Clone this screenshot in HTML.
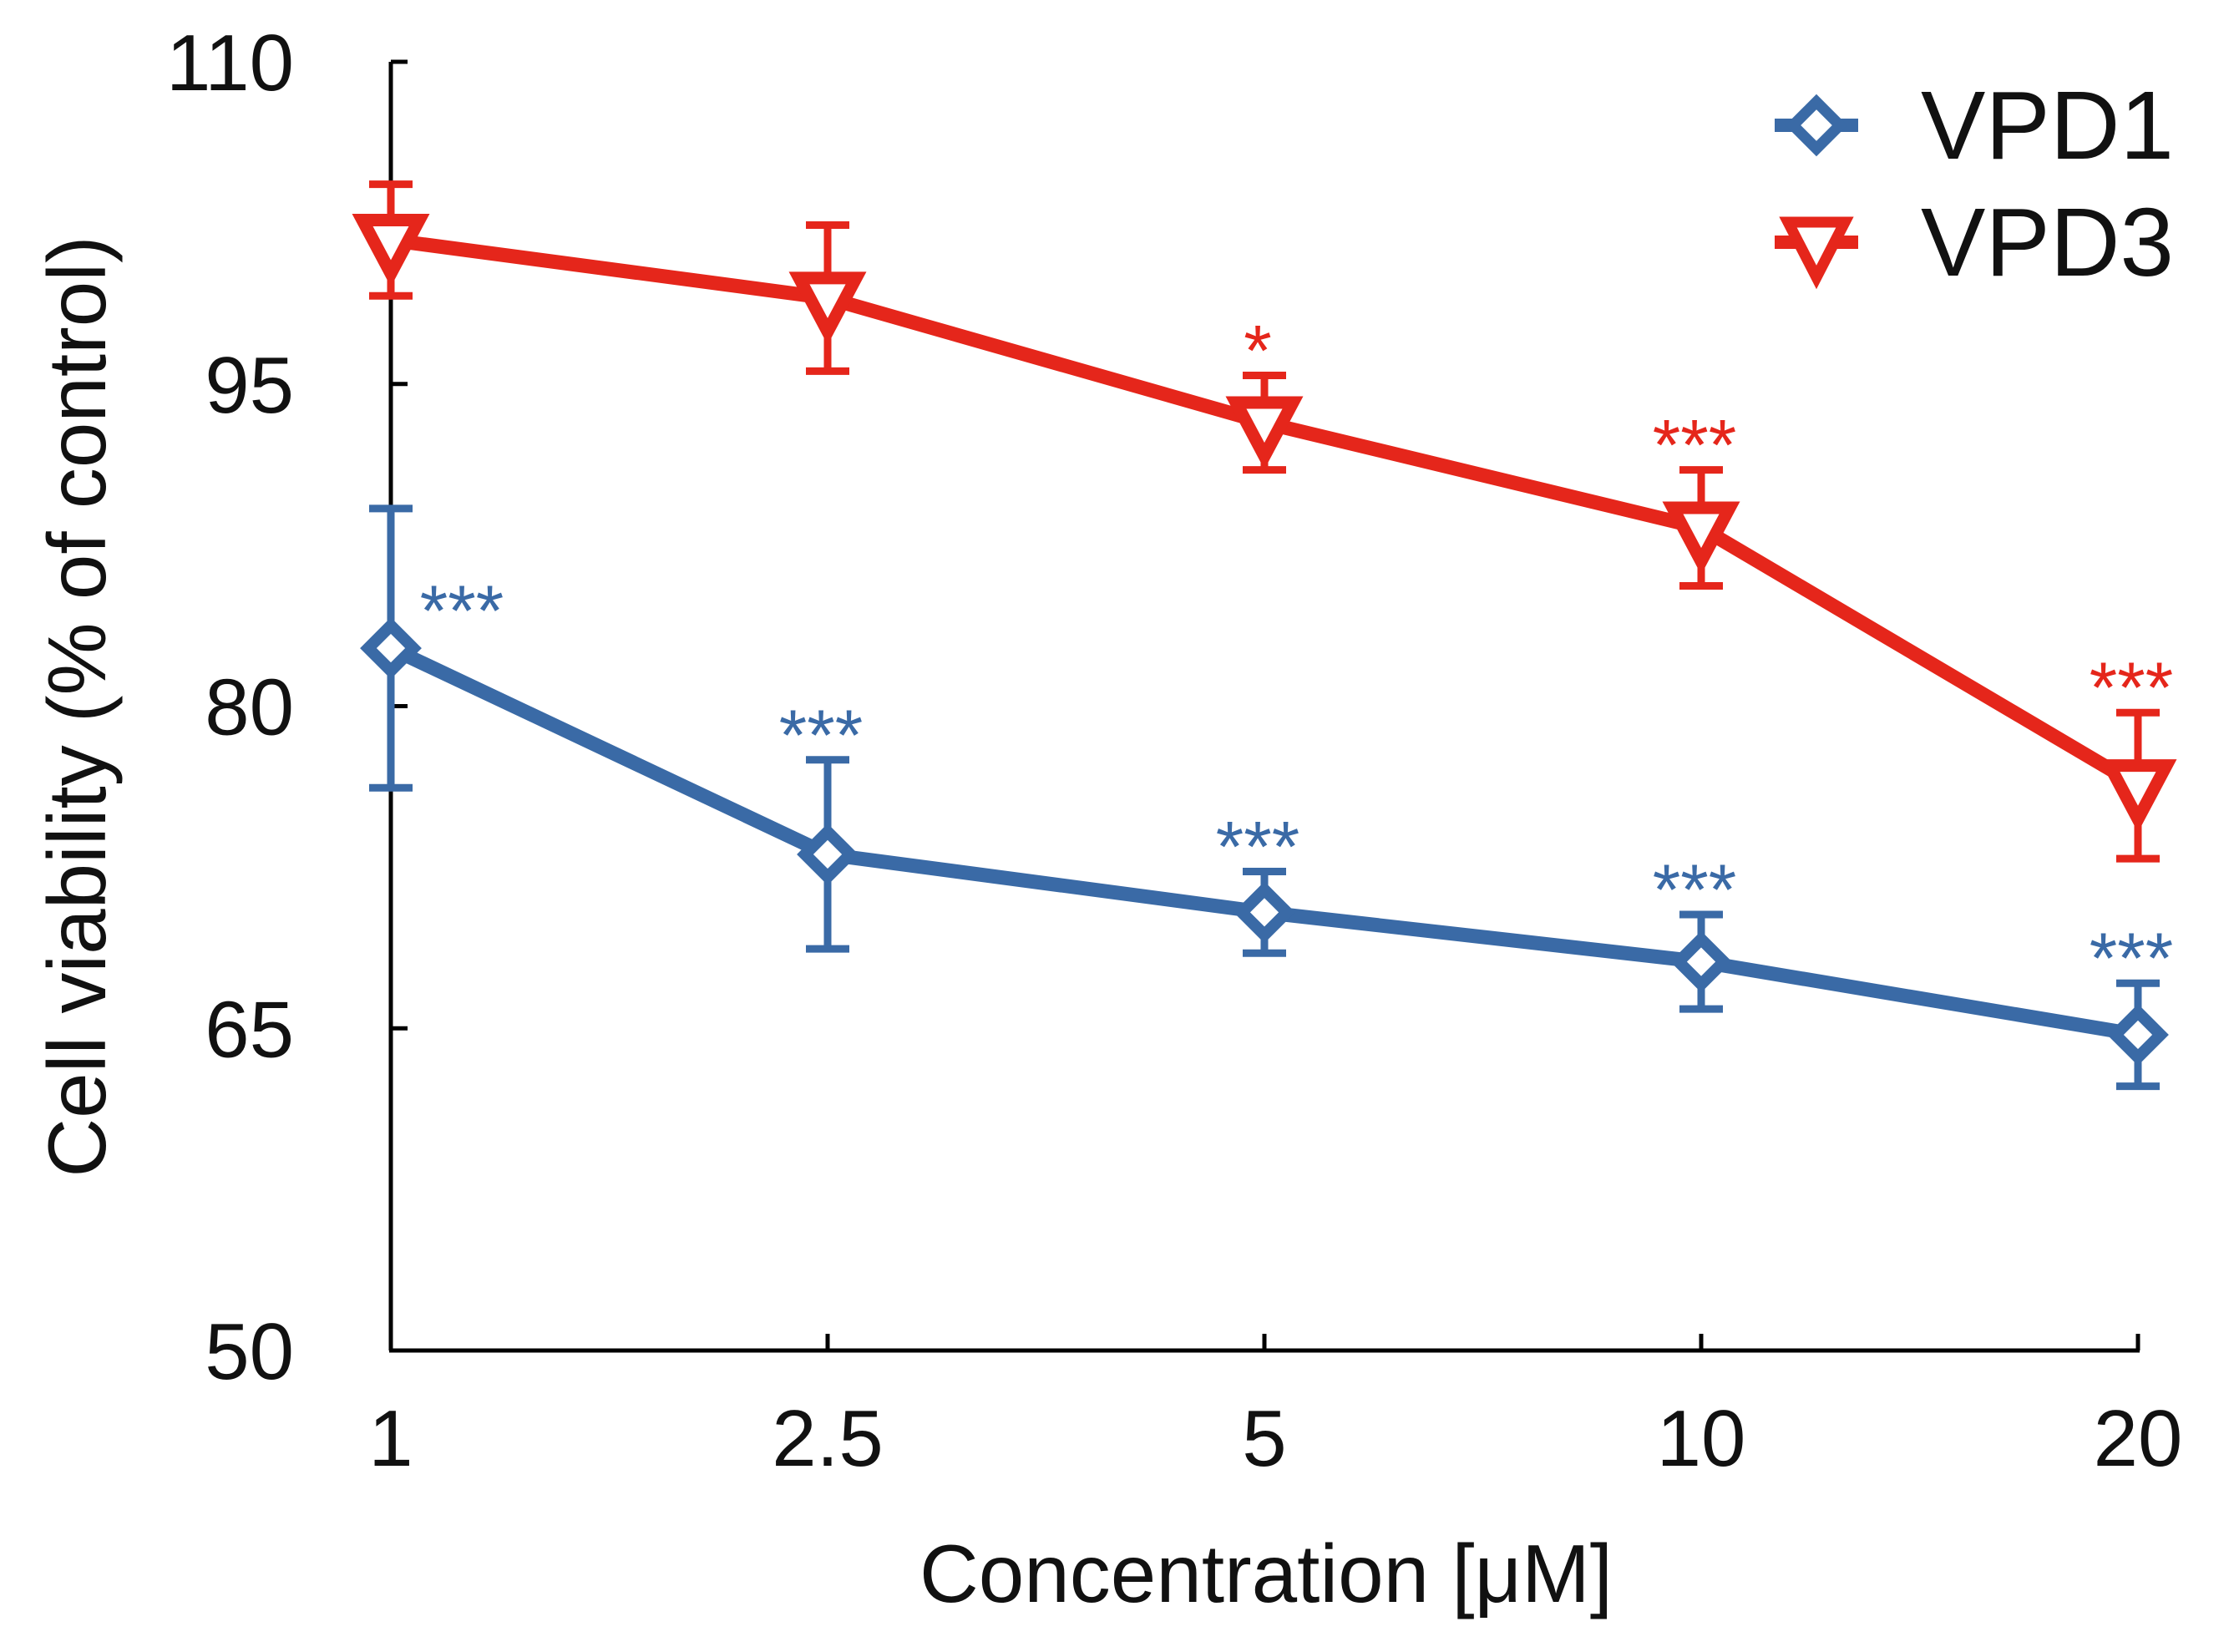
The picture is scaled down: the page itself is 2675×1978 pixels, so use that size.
<!DOCTYPE html>
<html><head><meta charset="utf-8"><style>
html,body{margin:0;padding:0;background:#fff;}
svg{display:block;font-family:"Liberation Sans",Arial,sans-serif;}
</style></head><body>
<svg id="chart" width="2675" height="1978" viewBox="0 0 2675 1978" xmlns="http://www.w3.org/2000/svg">
<g id="axes"></g>
<g id="series"></g>
<text transform="translate(126,846) rotate(-90)" text-anchor="middle" font-size="98" fill="#111">Cell viability (% of control)</text>
<text x="1516" y="1918" text-anchor="middle" font-size="98" fill="#111">Concentration [μM]</text>
<g>
  <g>
    <line x1="2125" y1="150" x2="2225" y2="150" stroke="#3a6aa6" stroke-width="16"/>
    <polygon points="2175,122 2203,150 2175,178 2147,150" fill="#fff" stroke="#3a6aa6" stroke-width="13"/>
    <text x="2300" y="190" font-size="116" fill="#111">VPD1</text>
  </g>
  <g>
    <line x1="2125" y1="290" x2="2225" y2="290" stroke="#e5261b" stroke-width="16"/>
    <polygon points="2141,266 2209,266 2175,332" fill="#fff" stroke="#e5261b" stroke-width="13"/>
    <text x="2300" y="330" font-size="116" fill="#111">VPD3</text>
  </g>
</g>
</svg>
<script>
const categories = ["1","2.5","5","10","20"];
const yTicks = [50,65,80,95,110];
const vpd1Values = [82.7,73.1,70.4,68.1,64.7];
const vpd1Errors = [6.5,4.4,1.9,2.2,2.4];
const vpd1Sig = ["***","***","***","***","***"];
const vpd3Values = [101.7,99.0,93.2,88.3,76.3];
const vpd3Errors = [2.6,3.4,2.2,2.7,3.4];
const vpd3Sig = ["","","*","***","***"];

const NS="http://www.w3.org/2000/svg";
const x0=468, dx=523, yBase=1617, yTop=74;
function xScale(i){return x0+i*dx;}
function yScale(v){return yBase-(v-50)/60*(yBase-yTop);}
function mk(tag,attrs,parent){const e=document.createElementNS(NS,tag);for(const k in attrs)e.setAttribute(k,attrs[k]);parent.appendChild(e);return e;}
const axes=document.getElementById('axes');
let l=mk('line',{x1:x0,y1:yTop,x2:x0,y2:yBase,stroke:'#000','stroke-width':5},axes);


l=mk('line',{x1:x0-2,y1:yBase,x2:xScale(4)+2,y2:yBase,stroke:'#000','stroke-width':5},axes);


yTicks.forEach(v=>{
  const y=yScale(v);
  const t=mk('line',{x1:x0,y1:y,x2:x0+20,y2:y,stroke:'#000','stroke-width':5},axes);
  
  
  const tx=mk('text',{x:352,y:y+34,'text-anchor':'end','font-size':96,fill:'#111'},axes);
  tx.textContent=v;
  
  
});
categories.forEach((c,i)=>{
  const x=xScale(i);
  const t=mk('line',{x1:x,y1:yBase,x2:x,y2:yBase-20,stroke:'#000','stroke-width':5},axes);
  
  
  const tx=mk('text',{x:x,y:1755,'text-anchor':'middle','font-size':96,fill:'#111'},axes);
  tx.textContent=c;
  
  
});
const series=document.getElementById('series');
function draw(name,vals,errs,sig,color,shape,sigOff){
  const g=mk('g',{},series);
  
  
  const pts=vals.map((v,i)=>xScale(i)+','+yScale(v)).join(' ');
  const pl=mk('polyline',{points:pts,fill:'none',stroke:color,'stroke-width':17,'stroke-linejoin':'round'},g);
  
  
  vals.forEach((v,i)=>{
    const x=xScale(i),y=yScale(v),yt=yScale(v+errs[i]),yb=yScale(v-errs[i]);
    const eb=mk('path',{d:`M${x},${yt}V${yb}M${x-26},${yt}H${x+26}M${x-26},${yb}H${x+26}`,stroke:color,'stroke-width':9,fill:'none'},g);
    
    
    let m;
    if(shape==='diamond') m=mk('polygon',{points:`${x},${y-27} ${x+27},${y} ${x},${y+27} ${x-27},${y}`,fill:'#fff',stroke:color,'stroke-width':14},g);
    else m=mk('polygon',{points:`${x-34},${y-24} ${x+34},${y-24} ${x},${y+40}`,fill:'#fff',stroke:color,'stroke-width':15},g);
    
    
    if(sig[i]){
      const first = (name==='vpd1'&&i===0);
      const sx = first ? x+85 : x-8;
      const sy = first ? y-55 : yt-sigOff;
      const s=mk('text',{x:sx,y:sy+40,'text-anchor':'middle','font-size':86,fill:color},g);
      s.textContent=sig[i];
      
      
    }
  });
}
draw('vpd3',vpd3Values,vpd3Errors,vpd3Sig,'#e5261b','tri',40);
draw('vpd1',vpd1Values,vpd1Errors,vpd1Sig,'#3a6aa6','diamond',40);
</script>
</body></html>
